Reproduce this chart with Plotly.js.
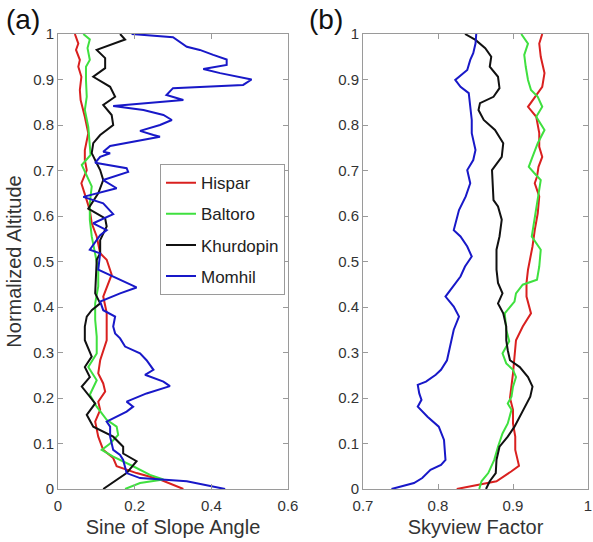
<!DOCTYPE html>
<html>
<head>
<meta charset="utf-8">
<script src="https://cdn.plot.ly/plotly-3.0.1.min.js"></script>
<style>html,body{margin:0;padding:0;background:#fff;}#chart{width:593px;height:542px;}</style>
</head>
<body>
<div id="chart"></div>
<script>
// ---- Panel (a): Sine of Slope Angle ----
const hisparA_x = [0.327,0.266,0.205,0.153,0.144,0.118,0.105,0.097,0.11,0.105,0.123,0.118,0.105,0.11,0.127,0.127,0.127,0.118,0.14,0.127,0.11,0.101,0.088,0.083,0.07,0.061,0.075,0.07,0.07,0.079,0.07,0.059,0.057,0.061,0.053,0.057,0.047,0.053,0.044];
const hisparA_y = [0,0.021,0.035,0.05,0.068,0.086,0.115,0.148,0.174,0.192,0.214,0.232,0.254,0.283,0.327,0.357,0.387,0.423,0.471,0.504,0.518,0.555,0.584,0.613,0.65,0.672,0.701,0.723,0.745,0.782,0.818,0.855,0.877,0.906,0.928,0.943,0.965,0.979,1.0];

const baltoroA_x = [0.175,0.214,0.275,0.24,0.196,0.144,0.114,0.136,0.157,0.153,0.127,0.101,0.083,0.101,0.079,0.101,0.101,0.097,0.097,0.105,0.105,0.097,0.088,0.083,0.083,0.088,0.07,0.062,0.085,0.083,0.079,0.07,0.075,0.073,0.073,0.083,0.077,0.083,0.066];
const baltoroA_y = [0,0.013,0.021,0.031,0.05,0.071,0.086,0.1,0.119,0.137,0.152,0.181,0.207,0.239,0.268,0.298,0.335,0.372,0.408,0.445,0.482,0.518,0.555,0.592,0.628,0.665,0.70,0.712,0.734,0.76,0.796,0.833,0.862,0.899,0.928,0.943,0.969,0.988,1.0];

const khurdopinA_x = [0.118,0.179,0.205,0.17,0.17,0.144,0.092,0.075,0.097,0.083,0.062,0.083,0.07,0.088,0.07,0.07,0.075,0.088,0.11,0.097,0.1,0.101,0.11,0.11,0.127,0.123,0.079,0.105,0.118,0.11,0.101,0.088,0.092,0.11,0.144,0.14,0.118,0.149,0.136,0.092,0.123,0.123,0.101,0.149,0.175,0.162];
const khurdopinA_y = [0,0.035,0.061,0.078,0.093,0.115,0.137,0.163,0.188,0.203,0.225,0.246,0.268,0.291,0.327,0.357,0.379,0.393,0.408,0.43,0.47,0.504,0.518,0.547,0.577,0.595,0.616,0.65,0.679,0.701,0.716,0.738,0.76,0.778,0.80,0.822,0.844,0.862,0.884,0.906,0.925,0.947,0.965,0.979,0.988,1.0];

const momhilA_x = [0.436,0.336,0.214,0.179,0.170,0.162,0.144,0.136,0.136,0.127,0.179,0.196,0.179,0.231,0.292,0.275,0.227,0.249,0.231,0.214,0.175,0.162,0.149,0.144,0.149,0.118,0.11,0.162,0.205,0.162,0.105,0.11,0.083,0.11,0.127,0.092,0.144,0.118,0.066,0.153,0.118,0.183,0.179,0.097,0.11,0.136,0.118,0.136,0.231,0.266,0.249,0.214,0.266,0.297,0.275,0.223,0.144,0.257,0.327,0.283,0.30,0.483,0.505,0.423,0.379,0.44,0.44,0.405,0.37,0.336,0.30,0.192];
const momhilA_y = [0,0.017,0.024,0.035,0.064,0.075,0.086,0.115,0.137,0.148,0.170,0.181,0.192,0.210,0.226,0.236,0.251,0.262,0.283,0.298,0.313,0.331,0.342,0.357,0.379,0.393,0.412,0.43,0.443,0.46,0.482,0.518,0.526,0.558,0.569,0.584,0.604,0.628,0.642,0.661,0.679,0.697,0.705,0.717,0.730,0.738,0.741,0.754,0.768,0.774,0.778,0.787,0.80,0.811,0.822,0.833,0.842,0.851,0.855,0.866,0.881,0.888,0.9,0.914,0.923,0.932,0.944,0.954,0.965,0.972,0.993,1.0];

// ---- Panel (b): Skyview Factor ----
const hisparB_x = [0.825,0.878,0.898,0.908,0.903,0.903,0.9,0.9,0.896,0.898,0.9,0.902,0.904,0.913,0.924,0.918,0.918,0.92,0.926,0.929,0.933,0.935,0.929,0.932,0.934,0.939,0.935,0.935,0.931,0.92,0.929,0.939,0.942,0.937,0.935,0.939];
const hisparB_y = [0,0.017,0.039,0.051,0.086,0.115,0.144,0.174,0.2,0.225,0.254,0.291,0.327,0.357,0.386,0.423,0.453,0.482,0.533,0.569,0.606,0.643,0.672,0.686,0.708,0.73,0.752,0.782,0.818,0.84,0.862,0.884,0.914,0.95,0.979,1.0];

const baltoroB_x = [0.855,0.858,0.867,0.875,0.88,0.886,0.893,0.898,0.893,0.898,0.9,0.904,0.9,0.891,0.886,0.895,0.891,0.889,0.902,0.904,0.913,0.932,0.935,0.937,0.925,0.929,0.933,0.937,0.928,0.921,0.926,0.933,0.942,0.931,0.939,0.933,0.924,0.92,0.917,0.915,0.92,0.911];
const baltoroB_y = [0,0.017,0.035,0.064,0.093,0.122,0.144,0.174,0.188,0.203,0.225,0.246,0.262,0.276,0.298,0.325,0.35,0.386,0.412,0.43,0.449,0.46,0.489,0.526,0.555,0.599,0.643,0.679,0.695,0.708,0.73,0.76,0.789,0.818,0.84,0.862,0.877,0.899,0.928,0.954,0.979,1.0];

const khurdopinB_x = [0.864,0.869,0.877,0.878,0.882,0.893,0.902,0.909,0.915,0.923,0.926,0.92,0.909,0.896,0.893,0.891,0.891,0.887,0.88,0.886,0.88,0.878,0.878,0.882,0.885,0.88,0.874,0.872,0.885,0.887,0.876,0.861,0.854,0.856,0.874,0.882,0.88,0.869,0.871,0.863,0.85,0.836];
const khurdopinB_y = [0,0.017,0.035,0.064,0.093,0.115,0.137,0.159,0.181,0.203,0.225,0.246,0.268,0.283,0.305,0.327,0.357,0.386,0.408,0.43,0.453,0.482,0.526,0.555,0.592,0.621,0.635,0.701,0.73,0.76,0.789,0.811,0.833,0.848,0.862,0.881,0.906,0.928,0.95,0.969,0.987,1.0];

const momhilB_x = [0.738,0.768,0.779,0.79,0.804,0.81,0.808,0.801,0.786,0.773,0.778,0.775,0.773,0.784,0.797,0.804,0.812,0.815,0.818,0.821,0.828,0.821,0.81,0.83,0.836,0.845,0.839,0.83,0.821,0.828,0.837,0.843,0.839,0.847,0.85,0.845,0.845,0.843,0.841,0.83,0.823,0.839,0.843,0.847,0.85,0.851];
const momhilB_y = [0,0.013,0.024,0.042,0.053,0.064,0.108,0.137,0.159,0.181,0.196,0.21,0.229,0.236,0.251,0.262,0.283,0.305,0.325,0.35,0.379,0.401,0.423,0.467,0.489,0.511,0.533,0.555,0.569,0.613,0.643,0.672,0.701,0.723,0.745,0.782,0.811,0.84,0.87,0.884,0.899,0.921,0.943,0.958,0.979,1.0];

const seriesNames = ['Hispar','Baltoro','Khurdopin','Momhil'];
const seriesColors = ['#d9201f','#3fe03f','#111111','#1818c8'];

const yTickVals = [0,0.1,0.2,0.3,0.4,0.5,0.6,0.7,0.8,0.9,1];
const yTickText = ['0','0.1','0.2','0.3','0.4','0.5','0.6','0.7','0.8','0.9','1'];
const xaTickVals = [0,0.2,0.4,0.6];
const xaTickText = ['0','0.2','0.4','0.6'];
const xbTickVals = [0.7,0.8,0.9,1.0];
const xbTickText = ['0.7','0.8','0.9','1'];

const panelA = [[hisparA_x,hisparA_y],[baltoroA_x,baltoroA_y],[khurdopinA_x,khurdopinA_y],[momhilA_x,momhilA_y]];
const panelB = [[hisparB_x,hisparB_y],[baltoroB_x,baltoroB_y],[khurdopinB_x,khurdopinB_y],[momhilB_x,momhilB_y]];

const traces = [];
panelA.forEach((d,i)=>{
  traces.push({x:d[0], y:d[1], type:'scatter', mode:'lines', name:seriesNames[i],
    legendgroup:'g'+i, line:{color:seriesColors[i], width:2}, xaxis:'x', yaxis:'y', showlegend:true});
});
panelB.forEach((d,i)=>{
  traces.push({x:d[0], y:d[1], type:'scatter', mode:'lines', name:seriesNames[i],
    legendgroup:'g'+i, line:{color:seriesColors[i], width:2}, xaxis:'x2', yaxis:'y2', showlegend:false});
});

const FONT = 'Liberation Sans, Arial, sans-serif';
const axisCommon = {
  showgrid:false, zeroline:false, showline:true, linecolor:'#9a9a9a', linewidth:1,
  mirror:'ticks', ticks:'inside', ticklen:5, tickcolor:'#9a9a9a', tickwidth:1,
  tickfont:{family:FONT, size:15, color:'#333'}
};

const PW = 530; // plot-area width in px (593 - 58 - 5)
const layout = {
  width:593, height:542,
  margin:{l:58, r:5, t:34, b:53},
  paper_bgcolor:'#fff', plot_bgcolor:'#fff',
  font:{family:FONT, color:'#333'},
  showlegend:true,
  legend:{x:102/PW, y:0.714, xanchor:'left', yanchor:'top', bgcolor:'#fff',
    bordercolor:'#9a9a9a', borderwidth:1, font:{family:FONT, size:17, color:'#222'},
    traceorder:'grouped', tracegroupgap:6},
  xaxis: Object.assign({}, axisCommon, {domain:[0, 230/PW], range:[0,0.6],
    tickvals:xaTickVals, ticktext:xaTickText, ticklabelstandoff:3,
    title:{text:'Sine of Slope Angle', font:{family:FONT, size:20, color:'#333'}, standoff:6}}),
  yaxis: Object.assign({}, axisCommon, {domain:[0,1], range:[0,1],
    tickvals:yTickVals, ticktext:yTickText,
    title:{text:'Normalized Altitude', font:{family:FONT, size:20, color:'#333'}, standoff:6}}),
  xaxis2: Object.assign({}, axisCommon, {domain:[305/PW, 1], range:[0.7,1.0], anchor:'y2',
    tickvals:xbTickVals, ticktext:xbTickText, ticklabelstandoff:3, ticklabeloverflow:'allow',
    title:{text:'Skyview Factor', font:{family:FONT, size:20, color:'#333'}, standoff:6}}),
  yaxis2: Object.assign({}, axisCommon, {domain:[0,1], range:[0,1], anchor:'x2',
    tickvals:yTickVals, ticktext:yTickText}),
  annotations:[
    {text:'(a)', xref:'paper', yref:'paper', x:-54/PW, y:1.031, xanchor:'left', yanchor:'middle',
      showarrow:false, font:{family:FONT, size:28, color:'#111'}},
    {text:'(b)', xref:'paper', yref:'paper', x:249/PW, y:1.031, xanchor:'left', yanchor:'middle',
      showarrow:false, font:{family:FONT, size:28, color:'#111'}}
  ]
};

Plotly.newPlot('chart', traces, layout, {displayModeBar:false, staticPlot:true});
</script>
</body>
</html>
